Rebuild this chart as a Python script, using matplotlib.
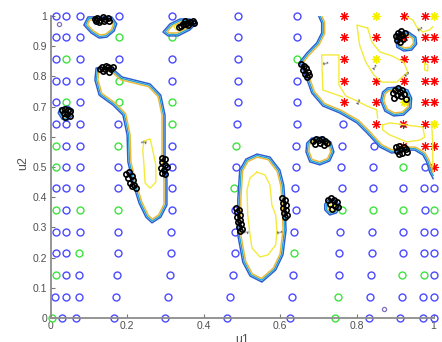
import numpy as np
import matplotlib
matplotlib.use("Agg")
import matplotlib.pyplot as plt
from matplotlib.path import Path

plt.rcParams['font.family'] = ['Liberation Sans', 'DejaVu Sans']

# ---------------- design grid (u1 per row, class per point) ----------------
u2_rows = [1.0, 0.929, 0.857, 0.786, 0.714, 0.643, 0.571, 0.5,
           0.429, 0.357, 0.286, 0.214, 0.143, 0.071, 0.0]
u1_rows = [
    [0.014, 0.040, 0.077, 0.179, 0.317, 0.489, 0.643, 0.766, 0.849, 0.922, 0.977, 1.0],
    [0.014, 0.040, 0.077, 0.179, 0.317, 0.489, 0.643, 0.766, 0.849, 0.922, 0.977, 1.0],
    [0.014, 0.040, 0.077, 0.179, 0.317, 0.489, 0.643, 0.766, 0.849, 0.922, 0.977, 1.0],
    [0.014, 0.040, 0.077, 0.179, 0.317, 0.489, 0.643, 0.766, 0.849, 0.922, 0.977, 1.0],
    [0.014, 0.040, 0.077, 0.179, 0.317, 0.489, 0.643, 0.766, 0.849, 0.922, 0.977, 1.0],
    [0.014, 0.040, 0.077, 0.177, 0.317, 0.487, 0.643, 0.764, 0.849, 0.920, 0.977, 1.0],
    [0.014, 0.040, 0.077, 0.177, 0.317, 0.484, 0.641, 0.761, 0.844, 0.920, 0.977, 1.0],
    [0.014, 0.040, 0.077, 0.177, 0.317, 0.484, 0.641, 0.759, 0.842, 0.920, 0.977, 1.0],
    [0.014, 0.040, 0.077, 0.177, 0.317, 0.479, 0.638, 0.761, 0.842, 0.920, 0.975, 1.0],
    [0.014, 0.040, 0.077, 0.177, 0.317, 0.481, 0.641, 0.761, 0.842, 0.920, 0.977, 1.0],
    [0.014, 0.040, 0.077, 0.177, 0.314, 0.481, 0.635, 0.756, 0.839, 0.920, 0.975, 1.0],
    [0.014, 0.040, 0.074, 0.177, 0.314, 0.481, 0.635, 0.753, 0.839, 0.920, 0.975, 1.0],
    [0.014, 0.040, 0.074, 0.173, 0.312, 0.476, 0.633, 0.753, 0.836, 0.917, 0.975, 1.0],
    [0.012, 0.040, 0.074, 0.171, 0.307, 0.468, 0.630, 0.750, 0.834, 0.917, 0.972, 1.0],
    [0.003, 0.031, 0.067, 0.166, 0.299, 0.462, 0.625, 0.744, 0.832, 0.912, 0.972, 1.0],
]
class_rows = [
    "BBBBBBBRYRRY",
    "BBBGGBBRRRRR",
    "BGBBBBGRYRRR",
    "BBBGBBBRRRRR",
    "BGBGGBBRRYRR",
    "BBBBGBBBRRRY",
    "GBBGBGBBBRRR",
    "GBBBBBBBBGBR",
    "BBBBBGBBBBBB",
    "GBGGBBBGGGBG",
    "BBBBBBBBBBBB",
    "BBGBBBGBBBBB",
    "GBBBBBBBBGGB",
    "BBBBBBBGBBBB",
    "GBBBBBBGBBBB",
]
small_u1 = [0.022, 0.870]
small_u2 = [0.973, 0.030]

# ---------------- adaptive samples (black clusters) ----------------
clusters = [
    [(0.115, 0.990), (0.122, 0.995), (0.130, 0.988), (0.137, 0.996), (0.143, 0.990),
     (0.150, 0.993), (0.127, 0.980), (0.140, 0.982), (0.118, 0.983), (0.153, 0.985)],
    [(0.335, 0.962), (0.342, 0.968), (0.350, 0.972), (0.357, 0.976), (0.364, 0.980),
     (0.372, 0.984), (0.345, 0.975), (0.360, 0.969), (0.375, 0.976), (0.352, 0.982)],
    [(0.128, 0.825), (0.135, 0.832), (0.142, 0.826), (0.150, 0.831), (0.158, 0.824),
     (0.163, 0.830), (0.137, 0.818), (0.152, 0.816), (0.145, 0.836)],
    [(0.030, 0.688), (0.038, 0.692), (0.046, 0.690), (0.052, 0.684), (0.034, 0.678),
     (0.044, 0.676), (0.050, 0.668), (0.038, 0.665)],
    [(0.198, 0.478), (0.205, 0.482), (0.212, 0.470), (0.203, 0.463), (0.215, 0.456),
     (0.208, 0.447), (0.218, 0.440), (0.222, 0.432), (0.212, 0.436)],
    [(0.290, 0.530), (0.298, 0.525), (0.291, 0.515), (0.300, 0.507), (0.289, 0.497),
     (0.297, 0.490), (0.290, 0.480), (0.298, 0.476), (0.305, 0.500)],
    [(0.485, 0.365), (0.492, 0.358), (0.487, 0.350), (0.495, 0.342), (0.488, 0.334),
     (0.496, 0.326), (0.490, 0.318), (0.498, 0.310), (0.492, 0.302), (0.500, 0.295),
     (0.494, 0.288)],
    [(0.605, 0.398), (0.612, 0.392), (0.606, 0.380), (0.615, 0.374), (0.608, 0.364),
     (0.616, 0.358), (0.610, 0.348), (0.617, 0.340), (0.612, 0.333)],
    [(0.655, 0.840), (0.662, 0.835), (0.668, 0.828), (0.660, 0.820), (0.672, 0.815),
     (0.665, 0.808), (0.676, 0.803), (0.670, 0.797)],
    [(0.902, 0.935), (0.908, 0.945), (0.915, 0.950), (0.910, 0.930), (0.918, 0.938),
     (0.905, 0.920), (0.912, 0.915), (0.920, 0.925), (0.925, 0.945)],
    [(0.893, 0.745), (0.900, 0.755), (0.908, 0.760), (0.904, 0.740), (0.912, 0.748),
     (0.918, 0.755), (0.915, 0.735), (0.924, 0.742), (0.898, 0.728), (0.928, 0.725)],
    [(0.685, 0.585), (0.693, 0.592), (0.700, 0.588), (0.708, 0.594), (0.716, 0.586),
     (0.722, 0.580), (0.690, 0.575), (0.704, 0.578), (0.715, 0.572)],
    [(0.902, 0.565), (0.909, 0.570), (0.915, 0.560), (0.922, 0.567), (0.929, 0.560),
     (0.905, 0.552), (0.918, 0.548), (0.932, 0.550), (0.910, 0.543)],
    [(0.725, 0.390), (0.732, 0.396), (0.740, 0.390), (0.748, 0.385), (0.730, 0.378),
     (0.742, 0.372), (0.750, 0.366), (0.735, 0.362)],
]

# ---------------- limit-state region outlines (u1, u2) ----------------
regions = {
    "A": ([0.098, 0.160, 0.173, 0.166, 0.147, 0.127, 0.106, 0.087],
          [0.997, 0.997, 0.974, 0.950, 0.930, 0.927, 0.944, 0.970]),
    "B": ([0.2935, 0.312, 0.338, 0.364, 0.382, 0.364, 0.333, 0.307],
          [0.947, 0.974, 0.990, 0.990, 0.977, 0.954, 0.934, 0.934]),
    "C": ([0.119, 0.160, 0.187, 0.260, 0.288, 0.299, 0.299, 0.304, 0.304, 0.288,
           0.265, 0.249, 0.231, 0.215, 0.202, 0.200, 0.189, 0.163, 0.127, 0.116],
          [0.828, 0.828, 0.798, 0.775, 0.738, 0.672, 0.523, 0.457, 0.374, 0.334,
           0.315, 0.334, 0.381, 0.447, 0.517, 0.606, 0.672, 0.705, 0.738, 0.788]),
    "D": ([0.025, 0.046, 0.059, 0.056, 0.043, 0.030, 0.020],
          [0.695, 0.702, 0.689, 0.669, 0.652, 0.659, 0.679]),
    "E": ([0.539, 0.573, 0.599, 0.609, 0.612, 0.615, 0.607, 0.588, 0.552, 0.521,
           0.502, 0.489, 0.489, 0.494, 0.510],
          [0.543, 0.533, 0.490, 0.440, 0.391, 0.291, 0.209, 0.159, 0.119, 0.139,
           0.185, 0.275, 0.391, 0.490, 0.526]),
    "F": ([0.682, 0.708, 0.732, 0.740, 0.729, 0.703, 0.677, 0.667, 0.669],
          [0.596, 0.599, 0.583, 0.550, 0.520, 0.507, 0.517, 0.550, 0.579]),
    "G": ([0.724, 0.745, 0.755, 0.747, 0.729, 0.716, 0.716],
          [0.391, 0.391, 0.371, 0.348, 0.341, 0.358, 0.377]),
    "H": ([0.693, 0.693, 0.708, 0.708, 0.695, 0.669, 0.651, 0.661, 0.672, 0.682,
           0.711, 0.755, 0.800, 0.826, 0.860, 0.891, 0.925, 0.951, 0.972, 0.982,
           0.990, 1.001, 1.042, 1.042],
          [1.036, 1.020, 0.977, 0.944, 0.911, 0.877, 0.848, 0.815, 0.781, 0.745,
           0.702, 0.679, 0.646, 0.613, 0.566, 0.546, 0.556, 0.556, 0.540, 0.517,
           0.483, 0.457, 0.457, 1.036]),
    "I": ([0.901, 0.914, 0.935, 0.954, 0.956, 0.943, 0.922, 0.904],
          [0.934, 0.947, 0.947, 0.930, 0.907, 0.887, 0.884, 0.897]),
    "J": ([0.867, 0.880, 0.907, 0.933, 0.943, 0.941, 0.922, 0.896, 0.873, 0.862],
          [0.748, 0.762, 0.765, 0.755, 0.728, 0.695, 0.672, 0.669, 0.685, 0.719]),
}

# level-1 contour traces (u1, u2)
level1 = [
    ([0.244, 0.260, 0.267, 0.275, 0.275, 0.260, 0.247, 0.244, 0.241, 0.244],
     [0.586, 0.593, 0.556, 0.507, 0.450, 0.430, 0.447, 0.507, 0.556, 0.586]),
    ([0.539, 0.560, 0.573, 0.578, 0.588, 0.591, 0.588, 0.568, 0.547, 0.526, 0.521,
      0.515, 0.513, 0.521, 0.539],
     [0.483, 0.474, 0.440, 0.374, 0.341, 0.291, 0.242, 0.209, 0.202, 0.232, 0.275,
      0.341, 0.424, 0.464, 0.483]),
    ([0.322, 0.341, 0.354, 0.346, 0.327, 0.322],
     [0.967, 0.974, 0.970, 0.957, 0.954, 0.967]),
    ([0.033, 0.046, 0.049, 0.035, 0.033],
     [0.682, 0.685, 0.672, 0.669, 0.682]),
    ([0.729, 0.742, 0.742, 0.729, 0.729],
     [0.374, 0.374, 0.358, 0.358, 0.374]),
    ([0.763, 0.711, 0.708, 0.753, 0.753, 0.771, 0.800, 0.826, 0.852, 0.854],
     [0.732, 0.755, 0.871, 0.871, 0.772, 0.735, 0.719, 0.702, 0.689, 0.662]),
    ([0.828, 0.800, 0.807, 0.823, 0.844, 0.865, 0.904, 0.933, 0.922, 0.891, 0.860,
      0.839, 0.828],
     [0.960, 0.970, 0.904, 0.848, 0.805, 0.781, 0.781, 0.815, 0.848, 0.868, 0.881,
      0.914, 0.960]),
    ([0.930, 0.946, 0.956, 0.972, 0.990, 0.998],
     [0.997, 0.987, 0.964, 0.947, 0.954, 0.964]),
    ([0.867, 0.886, 0.972, 0.977, 0.964, 0.930, 0.886, 0.867, 0.867],
     [0.639, 0.646, 0.632, 0.599, 0.589, 0.583, 0.606, 0.623, 0.639]),
    ([0.995, 0.998, 0.998],
     [0.646, 0.580, 0.500]),
    ([0.977, 0.985, 0.985, 0.977, 0.977],
     [0.844, 0.838, 0.818, 0.821, 0.844]),
]
label_u1 = [0.247, 0.513, 0.591, 0.711, 0.842, 0.925, 0.959, 0.800, 0.925]
label_u2 = [0.583, 0.286, 0.286, 0.845, 0.828, 0.805, 0.957, 0.712, 0.637]
label_rot = [80, 80, -80, -80, -35, -50, -60, -30, 80]

# ---------------- figure ----------------
W, H = 442, 342
fig = plt.figure(figsize=(W / 100, H / 100), dpi=100)
ax = fig.add_axes([50.5 / W, 24 / H, 383 / W, 302 / H])
SX, SY = 383.0, 302.0

style = {
    "B": dict(marker="o", ms=5, mfc="none", mec="#4b4bff", mew=1.0, ls="none"),
    "G": dict(marker="o", ms=5, mfc="none", mec="#3fe33f", mew=1.0, ls="none"),
    "R": dict(marker=(8, 2, 0), ms=6, mec="#ff0000", mew=0.8, ls="none"),
    "Y": dict(marker=(8, 2, 0), ms=6, mec="#f5f000", mew=0.9, ls="none"),
}
for key, st in style.items():
    xs, ys = [], []
    for u2v, u1s, cls in zip(u2_rows, u1_rows, class_rows):
        for u1v, c in zip(u1s, cls):
            if c == key:
                xs.append(u1v)
                ys.append(u2v)
    ax.plot(xs, ys, clip_on=False, zorder=2, **st)
ax.plot(small_u1, small_u2, "o", ms=3, mfc="none", mec="#8070c0", mew=0.9,
        clip_on=False, zorder=2)


def seg_dist(px, py, poly):
    P = np.vstack([poly, poly[:1]])
    d = np.full(px.shape, np.inf)
    for (x0, y0), (x1, y1) in zip(P[:-1], P[1:]):
        dx, dy = x1 - x0, y1 - y0
        L = dx * dx + dy * dy
        t = np.clip(((px - x0) * dx + (py - y0) * dy) / L, 0, 1)
        d = np.minimum(d, np.hypot(px - (x0 + t * dx), py - (y0 + t * dy)))
    return d


band_levels = [0.0, 1.5, 3.0]
band_colors = ["#2f5ccf", "#27a6d6", "#ebb93a"]
for name, (ru1, ru2) in regions.items():
    pu = np.column_stack([ru1, ru2])
    x0 = max(0.0, pu[:, 0].min() - 0.02)
    x1 = min(1.0, pu[:, 0].max() + 0.02)
    y0 = max(0.0, pu[:, 1].min() - 0.02)
    y1 = min(1.0, pu[:, 1].max() + 0.02)
    nx = int((x1 - x0) * SX * 2.5) + 3
    ny = int((y1 - y0) * SY * 2.5) + 3
    X, Y = np.meshgrid(np.linspace(x0, x1, nx), np.linspace(y0, y1, ny))
    inside = Path(pu).contains_points(
        np.column_stack([X.ravel(), Y.ravel()])).reshape(X.shape)
    D = seg_dist(X * SX, Y * SY, pu * np.array([SX, SY]))
    S = np.where(inside, D, -D)
    ax.contour(X, Y, S, levels=band_levels, colors=band_colors,
               linewidths=1.05, zorder=3)

for lx, ly in level1:
    ax.plot(lx, ly, color="#f4ea3c", lw=1.0, zorder=3)
for x, y, r in zip(label_u1, label_u2, label_rot):
    ax.text(x, y, "1", fontsize=5, rotation=r, ha="center", va="center",
            color="#222222", zorder=4)

for cl in clusters:
    cx = [p[0] for p in cl]
    cy = [p[1] for p in cl]
    ax.plot(cx, cy, "o", ms=3.8, mfc="none", mec="black", mew=1.2,
            clip_on=False, zorder=5)

ax.set_xlim(0, 1)
ax.set_ylim(0, 1)
ax.set_xticks([0, 0.2, 0.4, 0.6, 0.8, 1])
ax.set_xticklabels(["0", "0.2", "0.4", "0.6", "0.8", "1"])
ax.set_yticks([i / 10 for i in range(11)])
ax.set_yticklabels(["0", "0.1", "0.2", "0.3", "0.4", "0.5", "0.6", "0.7",
                    "0.8", "0.9", "1"])
for s in ["top", "right"]:
    ax.spines[s].set_visible(False)
for s in ["left", "bottom"]:
    ax.spines[s].set_color("#8c8c8c")
    ax.spines[s].set_linewidth(1.3)
ax.tick_params(direction="in", length=3, width=0.8, color="#777777",
               labelsize=7.5, labelcolor="#505050", pad=2.5)
ax.set_xlabel("u1", fontsize=9, color="#505050")
ax.set_ylabel("u2", fontsize=9, color="#505050")
ax.xaxis.set_label_coords(0.5, -0.052)
ax.xaxis.label.set_va("top")
ax.yaxis.set_label_coords(-0.072, 0.513)
ax.yaxis.label.set_va("center")

fig.savefig("out.png", dpi=100)
